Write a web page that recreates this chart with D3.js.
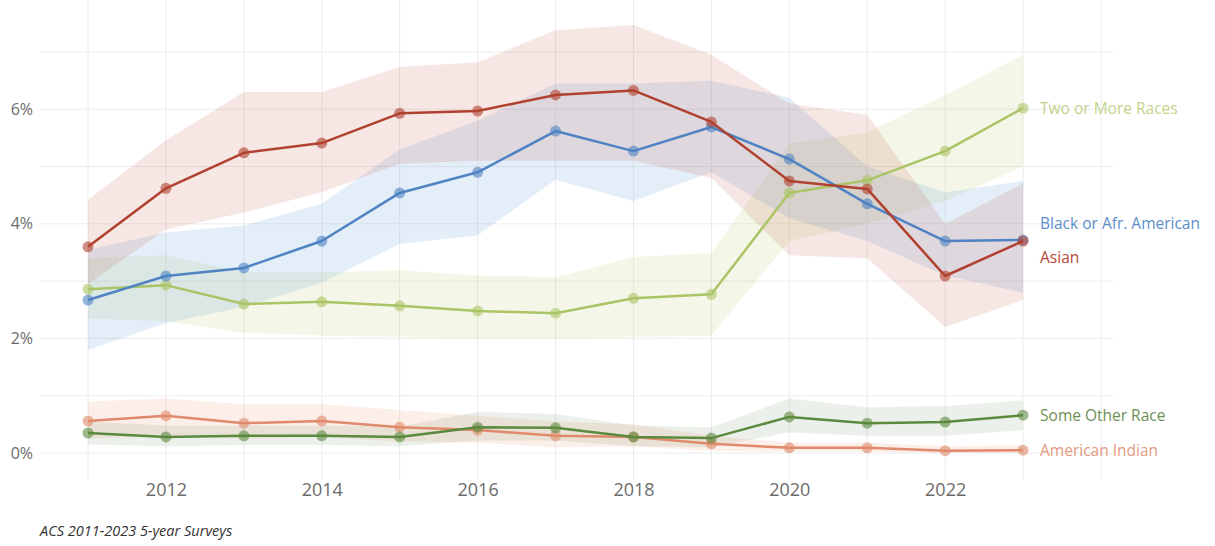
<!DOCTYPE html>
<html>
<head>
<meta charset="utf-8">
<script src="https://cdn.jsdelivr.net/npm/d3@7"></script>
<style>
  html, body { margin: 0; padding: 0; background: #fff; }
  svg { display: block; font-family: "Open Sans", "Noto Sans", sans-serif; }
</style>
</head>
<body>
<svg id="chart" width="1215" height="546"></svg>
<script>
// Survey years (ACS 5-year estimates)
const years = [2011, 2012, 2013, 2014, 2015, 2016, 2017, 2018, 2019, 2020, 2021, 2022, 2023];

// Share (%) with lower / upper bounds of the estimate
const twoOrMore    = [2.86, 2.93, 2.60, 2.64, 2.57, 2.48, 2.44, 2.70, 2.77, 4.54, 4.76, 5.27, 6.02];
const twoOrMoreLo  = [2.35, 2.30, 2.10, 2.05, 2.02, 2.00, 2.00, 2.02, 2.05, 3.70, 4.00, 4.40, 5.00];
const twoOrMoreHi  = [3.40, 3.45, 3.15, 3.15, 3.19, 3.10, 3.07, 3.42, 3.49, 5.40, 5.60, 6.25, 6.95];

const black        = [2.67, 3.09, 3.23, 3.70, 4.54, 4.90, 5.62, 5.27, 5.69, 5.13, 4.35, 3.70, 3.72];
const blackLo      = [1.80, 2.27, 2.55, 2.97, 3.65, 3.80, 4.77, 4.40, 4.90, 4.10, 3.70, 3.10, 2.80];
const blackHi      = [3.55, 3.85, 3.97, 4.35, 5.30, 5.80, 6.45, 6.45, 6.50, 6.20, 5.00, 4.55, 4.75];

const asian        = [3.60, 4.62, 5.24, 5.41, 5.93, 5.97, 6.25, 6.33, 5.78, 4.75, 4.61, 3.09, 3.70];
const asianLo      = [2.95, 3.90, 4.20, 4.55, 5.05, 5.10, 5.10, 5.10, 4.80, 3.45, 3.40, 2.20, 2.67];
const asianHi      = [4.42, 5.46, 6.30, 6.30, 6.74, 6.82, 7.38, 7.47, 6.95, 6.10, 5.90, 4.00, 4.70];

const amerIndian   = [0.56, 0.65, 0.52, 0.56, 0.45, 0.40, 0.30, 0.28, 0.16, 0.09, 0.09, 0.04, 0.05];
const amerIndianLo = [0.25, 0.30, 0.25, 0.28, 0.20, 0.18, 0.10, 0.12, 0.04, 0.02, 0.02, 0.00, 0.00];
const amerIndianHi = [0.90, 0.95, 0.85, 0.85, 0.75, 0.65, 0.55, 0.50, 0.30, 0.18, 0.18, 0.12, 0.13];

const otherRace    = [0.35, 0.28, 0.30, 0.30, 0.28, 0.45, 0.44, 0.28, 0.26, 0.63, 0.52, 0.54, 0.66];
const otherRaceLo  = [0.15, 0.12, 0.14, 0.14, 0.12, 0.22, 0.22, 0.12, 0.10, 0.36, 0.30, 0.30, 0.40];
const otherRaceHi  = [0.55, 0.48, 0.48, 0.48, 0.46, 0.72, 0.68, 0.48, 0.45, 0.95, 0.80, 0.82, 0.92];

const seriesNames  = ["Two or More Races", "Black or Afr. American", "Asian", "American Indian", "Some Other Race"];

const xTicks = [2012, 2014, 2016, 2018, 2020, 2022];
const yTicks = [0, 2, 4, 6];
const yGrid  = [0, 1, 2, 3, 4, 5, 6, 7];
const xGrid  = d3.range(2011, 2025);
const caption = "ACS 2011-2023 5-year Surveys";

// Drawing style per series
const styles = {
  "Two or More Races":      { line: "#abc466", band: "#b9cf6c", bandOpacity: 0.16, text: "#c2d38c" },
  "Black or Afr. American": { line: "#4f83c3", band: "#5a93d3", bandOpacity: 0.16, text: "#5b8fca" },
  "Asian":                  { line: "#b1412f", band: "#c4574b", bandOpacity: 0.15, text: "#b5483b" },
  "American Indian":        { line: "#e08a6b", band: "#ec9474", bandOpacity: 0.16, text: "#e39a7f" },
  "Some Other Race":        { line: "#5b8a3f", band: "#6e8a5e", bandOpacity: 0.13, text: "#6d8f55" }
};

const series = [
  { name: seriesNames[0], v: twoOrMore,  lo: twoOrMoreLo,  hi: twoOrMoreHi },
  { name: seriesNames[1], v: black,      lo: blackLo,      hi: blackHi },
  { name: seriesNames[2], v: asian,      lo: asianLo,      hi: asianHi },
  { name: seriesNames[3], v: amerIndian, lo: amerIndianLo, hi: amerIndianHi },
  { name: seriesNames[4], v: otherRace,  lo: otherRaceLo,  hi: otherRaceHi }
];

const svg = d3.select("#chart");

const x = d3.scaleLinear().domain([2011, 2024]).range([88, 1101]);
const y = d3.scaleLinear().domain([0, 7]).range([453, 52]);

// Grid
const grid = svg.append("g").attr("class", "grid");
grid.selectAll("line.v").data(xGrid).join("line")
  .attr("class", "v")
  .attr("x1", d => x(d)).attr("x2", d => x(d))
  .attr("y1", 0).attr("y2", 480)
  .attr("stroke", "#ececec").attr("stroke-width", 1);
grid.selectAll("line.h").data(yGrid).join("line")
  .attr("class", "h")
  .attr("x1", x.range()[0] - 48).attr("x2", x.range()[1] + 12)
  .attr("y1", d => y(d)).attr("y2", d => y(d))
  .attr("stroke", "#ececec").attr("stroke-width", 1);

// Axes (labels only)
const xAxis = svg.append("g")
  .attr("transform", `translate(0,${y(0) + 37})`)
  .call(d3.axisBottom(x).tickValues(xTicks).tickFormat(d3.format("d")).tickSize(0).tickPadding(0));
xAxis.select(".domain").remove();
xAxis.selectAll("text")
  .attr("font-size", 18).attr("fill", "#6b6b6b")
  .attr("font-family", "'Open Sans', 'Noto Sans', sans-serif")
  .attr("dy", "0.35em");

const yAxis = svg.append("g")
  .attr("transform", "translate(33,0)")
  .call(d3.axisLeft(y).tickValues(yTicks).tickFormat(d => d + "%").tickSize(0).tickPadding(0));
yAxis.select(".domain").remove();
yAxis.selectAll("text")
  .attr("font-size", 16).attr("fill", "#6b6b6b")
  .attr("font-family", "'Open Sans', 'Noto Sans', sans-serif");

// Uncertainty bands
const area = d3.area()
  .x((d, i) => x(years[i]))
  .y0(d => y(d[0]))
  .y1(d => y(d[1]));

svg.append("g").attr("class", "bands")
  .selectAll("path").data(series).join("path")
  .attr("d", s => area(s.lo.map((l, i) => [l, s.hi[i]])))
  .attr("fill", s => styles[s.name].band)
  .attr("fill-opacity", s => styles[s.name].bandOpacity);

// Lines and markers
const line = d3.line().x((d, i) => x(years[i])).y(d => y(d));

const lines = svg.append("g").attr("class", "lines")
  .selectAll("g").data(series).join("g");

lines.append("path")
  .attr("d", s => line(s.v))
  .attr("fill", "none")
  .attr("stroke", s => styles[s.name].line)
  .attr("stroke-width", 2.5)
  .attr("stroke-linejoin", "round");

lines.each(function (s) {
  d3.select(this).selectAll("circle").data(s.v).join("circle")
    .attr("cx", (d, i) => x(years[i]))
    .attr("cy", d => y(d))
    .attr("r", 5.5)
    .attr("fill", styles[s.name].line)
    .attr("fill-opacity", 0.6);
});

// End labels: start at each line's last point, then push apart so none collide
const minGap = 34;
const labels = series.map(s => ({ name: s.name, y: y(s.v[s.v.length - 1]) }))
  .sort((a, b) => a.y - b.y);
for (let iter = 0; iter < 50; iter++) {
  for (let i = 1; i < labels.length; i++) {
    const a = labels[i - 1], b = labels[i];
    const overlap = minGap - (b.y - a.y);
    if (overlap > 0) { a.y -= overlap / 2; b.y += overlap / 2; }
  }
}

svg.append("g").attr("class", "labels")
  .selectAll("text").data(labels).join("text")
  .attr("x", x(2023) + 17)
  .attr("y", d => d.y)
  .attr("dy", "0.35em")
  .attr("font-size", 15.5)
  .attr("fill", d => styles[d.name].text)
  .text(d => d.name);

// Source note
svg.append("text")
  .attr("x", 40).attr("y", 536)
  .attr("font-size", 14.5).attr("font-style", "italic")
  .attr("fill", "#333")
  .text(caption);
</script>
</body>
</html>
